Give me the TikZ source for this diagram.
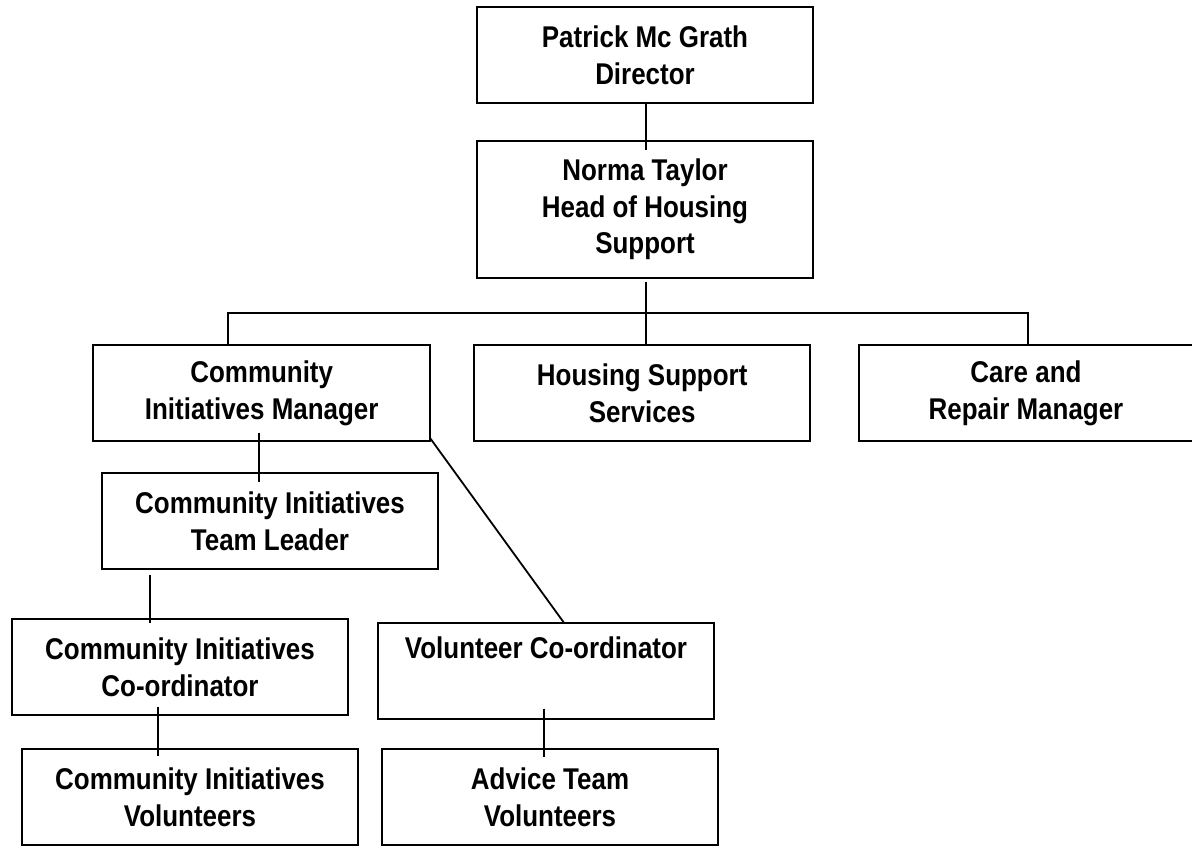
\documentclass[tikz,border=0pt]{standalone}
\usepackage{fontspec}
\setmainfont{Liberation Sans}[FakeStretch=0.865]
\begin{document}
\begin{tikzpicture}[x=1pt,y=-1pt,
  box/.style={draw, line width=2pt, minimum width=336.5pt, minimum height=96pt,
    inner sep=0pt, outer sep=0pt, align=center,
    font=\fontsize{30}{36.7}\selectfont\bfseries},
  link/.style={line width=1.8pt}]
\useasboundingbox (0,0) rectangle (1192,847);

% boxes
\node[box] (pat) at (645,55.3) {Patrick Mc Grath\\Director};
\node[box, minimum height=137.6pt] (nor) at (645,209.5) {Norma Taylor\\Head of Housing\\Support};
\node[box] (cim) at (261.7,393.3) {Community\\Initiatives Manager};
\node[box] (hss) at (642.2,393.3) {Housing Support\\Services};
\node[box, minimum width=334pt] (crm) at (1026,393.3) {Care and\\Repair Manager};
\node[box] (tl)  at (270,521) {Community Initiatives\\Team Leader};
\node[box] (cic) at (180,667) {Community Initiatives\\Co-ordinator};
\node[box] (vc)  at (546,671.2) {Volunteer Co-ordinator\\\strut};
\node[box] (civ) at (190,797.2) {Community Initiatives\\Volunteers};
\node[box] (atv) at (550,797.2) {Advice Team\\Volunteers};

% connectors
\coordinate (bus) at (645.7,313.3);
\draw[link] ([xshift=0.7pt,yshift=1.6pt]pat.south) -- ([xshift=0.7pt,yshift=-9.3pt]nor.north);
\draw[link] ([xshift=0.7pt,yshift=-3.4pt]nor.south) -- ([xshift=3.5pt]hss.north);
\draw[link] ([xshift=-33.4pt]cim.north) |- (bus) -| ([xshift=2pt]crm.north);
\draw[link] ([xshift=-2.4pt,yshift=8.7pt]cim.south) -- ([xshift=-10.7pt,yshift=-9pt]tl.north);
\draw[link] ([xshift=-120pt,yshift=-5.7pt]tl.south) -- ([xshift=-30pt,yshift=-4.3pt]cic.north);
\draw[link] ([xshift=-22.3pt,yshift=8.3pt]cic.south) -- ([xshift=-32.3pt,yshift=-6.7pt]civ.north);
\draw[link] ([xshift=-2pt,yshift=10.7pt]vc.south) -- ([xshift=-6pt,yshift=-7.4pt]atv.north);
\draw[link] ([yshift=3.4pt]cim.south east) -- ([xshift=18.3pt]vc.north);
\end{tikzpicture}
\end{document}
